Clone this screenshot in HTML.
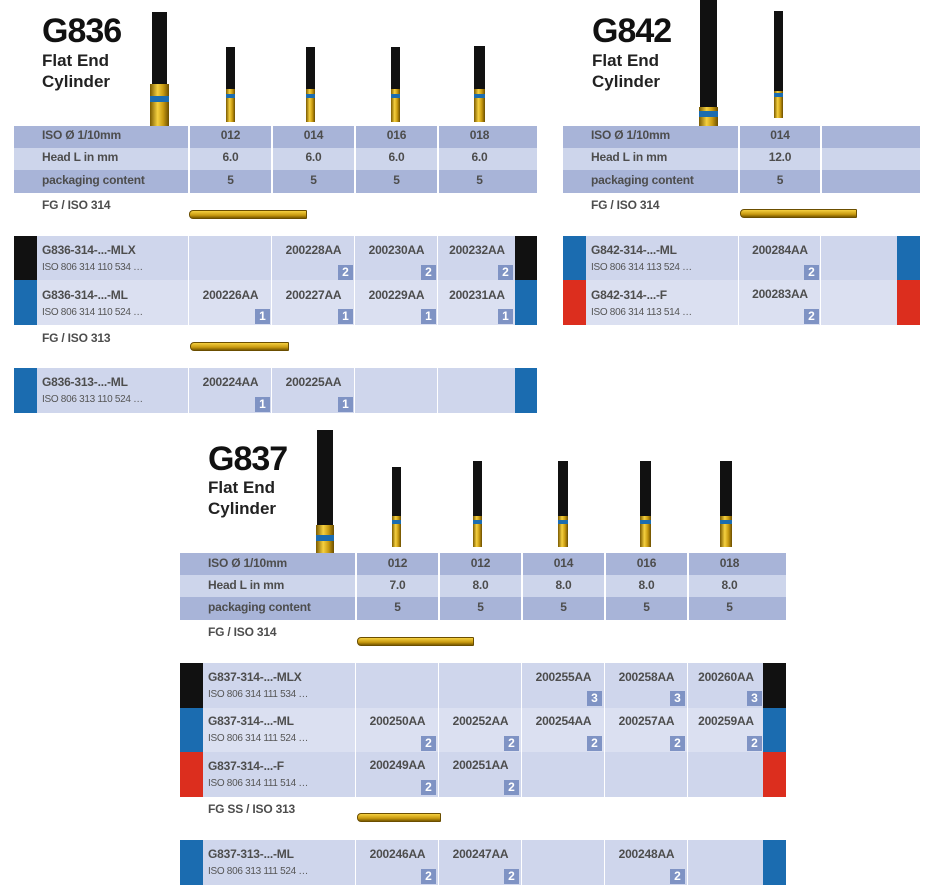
<!DOCTYPE html>
<html><head><meta charset="utf-8"><style>
body{margin:0;width:937px;height:892px;background:#fff;position:relative;overflow:hidden;font-family:"Liberation Sans",sans-serif}
.a{position:absolute}
.t{position:absolute;font-weight:bold;font-size:12px;color:#4d4d4d;white-space:nowrap;letter-spacing:-0.2px}
.c{text-align:center}
.s{position:absolute;font-size:10px;color:#555;white-space:nowrap;letter-spacing:-0.3px}
.b{position:absolute;width:15px;height:15px;background:#7f93c4;color:#fff;font-weight:bold;font-size:12px;text-align:center;line-height:15px}
.h{position:absolute;font-weight:bold;font-size:34px;color:#111;letter-spacing:-1px}
.f{position:absolute;font-weight:bold;font-size:17px;color:#222;line-height:21px}
.dk{background:#a8b4d8}.lt{background:#cdd5eb}.p1{background:#cfd6ec}.p2{background:#dbe0f1}
.v{position:absolute;width:2px;background:#fff}
.blk{background:#111}.gold{background:linear-gradient(90deg,#7a5a00,#f5d040 40%,#c89a10 70%,#6b4e00)}.blue{background:#1b6cb0}
.hb{position:absolute;height:7px;border-radius:4px;background:linear-gradient(180deg,#f5d040,#c89a10 60%,#7a5a00);border:1px solid #6b4e00}
</style></head><body>

<!-- G836 -->
<div class="h" style="left:42px;top:12px">G836</div>
<div class="f" style="left:42px;top:50px">Flat End<br>Cylinder</div>
<div class="a blk" style="left:152px;top:12px;width:15px;height:72px"></div>
<div class="a gold" style="left:150px;top:84px;width:19px;height:42px"></div>
<div class="a blue" style="left:150px;top:96px;width:19px;height:6px"></div>
<div class="a blk" style="left:226px;top:47px;width:9px;height:42px"></div><div class="a gold" style="left:226px;top:89px;width:9px;height:33px"></div><div class="a blue" style="left:226px;top:94px;width:9px;height:4px"></div>
<div class="a blk" style="left:306px;top:47px;width:9px;height:42px"></div><div class="a gold" style="left:306px;top:89px;width:9px;height:33px"></div><div class="a blue" style="left:306px;top:94px;width:9px;height:4px"></div>
<div class="a blk" style="left:391px;top:47px;width:9px;height:42px"></div><div class="a gold" style="left:391px;top:89px;width:9px;height:33px"></div><div class="a blue" style="left:391px;top:94px;width:9px;height:4px"></div>
<div class="a blk" style="left:474px;top:46px;width:11px;height:43px"></div><div class="a gold" style="left:474px;top:89px;width:11px;height:33px"></div><div class="a blue" style="left:474px;top:94px;width:11px;height:4px"></div>

<div class="a dk" style="left:14px;top:126px;width:523px;height:22px"></div>
<div class="a lt" style="left:14px;top:148px;width:523px;height:22px"></div>
<div class="a dk" style="left:14px;top:170px;width:523px;height:23px"></div>
<div class="v" style="left:188px;top:126px;height:67px"></div><div class="v" style="left:271px;top:126px;height:67px"></div><div class="v" style="left:354px;top:126px;height:67px"></div><div class="v" style="left:437px;top:126px;height:67px"></div>
<div class="t" style="left:42px;top:128px">ISO Ø 1/10mm</div><div class="t" style="left:42px;top:150px">Head L in mm</div><div class="t" style="left:42px;top:173px">packaging content</div>
<div class="t c" style="left:190px;width:81px;top:128px">012</div><div class="t c" style="left:273px;width:81px;top:128px">014</div><div class="t c" style="left:356px;width:81px;top:128px">016</div><div class="t c" style="left:439px;width:81px;top:128px">018</div>
<div class="t c" style="left:190px;width:81px;top:150px">6.0</div><div class="t c" style="left:273px;width:81px;top:150px">6.0</div><div class="t c" style="left:356px;width:81px;top:150px">6.0</div><div class="t c" style="left:439px;width:81px;top:150px">6.0</div>
<div class="t c" style="left:190px;width:81px;top:173px">5</div><div class="t c" style="left:273px;width:81px;top:173px">5</div><div class="t c" style="left:356px;width:81px;top:173px">5</div><div class="t c" style="left:439px;width:81px;top:173px">5</div>
<div class="t" style="left:42px;top:198px">FG / ISO 314</div>
<div class="hb" style="left:189px;top:210px;width:116px;border-radius:4px 1px 1px 4px"></div>

<div class="a p1" style="left:14px;top:236px;width:523px;height:44px"></div>
<div class="a p2" style="left:14px;top:280px;width:523px;height:45px"></div>
<div class="a blk" style="left:14px;top:236px;width:23px;height:44px"></div><div class="a blk" style="left:515px;top:236px;width:22px;height:44px"></div>
<div class="a blue" style="left:14px;top:280px;width:23px;height:45px"></div><div class="a blue" style="left:515px;top:280px;width:22px;height:45px"></div>
<div class="v" style="left:188px;top:236px;height:89px;width:1px"></div><div class="v" style="left:271px;top:236px;height:89px;width:1px"></div><div class="v" style="left:354px;top:236px;height:89px;width:1px"></div><div class="v" style="left:437px;top:236px;height:89px;width:1px"></div>
<div class="t" style="left:42px;top:243px">G836-314-...-MLX</div><div class="s" style="left:42px;top:262px">ISO 806 314 110 534 …</div>
<div class="t" style="left:42px;top:288px">G836-314-...-ML</div><div class="s" style="left:42px;top:307px">ISO 806 314 110 524 …</div>
<div class="t c" style="left:273px;width:81px;top:243px">200228AA</div><div class="t c" style="left:356px;width:81px;top:243px">200230AA</div><div class="t c" style="left:439px;width:76px;top:243px">200232AA</div>
<div class="b" style="left:338px;top:265px">2</div><div class="b" style="left:421px;top:265px">2</div><div class="b" style="left:498px;top:265px">2</div>
<div class="t c" style="left:190px;width:81px;top:288px">200226AA</div><div class="t c" style="left:273px;width:81px;top:288px">200227AA</div><div class="t c" style="left:356px;width:81px;top:288px">200229AA</div><div class="t c" style="left:439px;width:76px;top:288px">200231AA</div>
<div class="b" style="left:255px;top:309px">1</div><div class="b" style="left:338px;top:309px">1</div><div class="b" style="left:421px;top:309px">1</div><div class="b" style="left:498px;top:309px">1</div>

<div class="t" style="left:42px;top:331px">FG / ISO 313</div>
<div class="hb" style="left:190px;top:342px;width:97px;border-radius:4px 1px 1px 4px"></div>
<div class="a p1" style="left:14px;top:368px;width:523px;height:45px"></div>
<div class="a blue" style="left:14px;top:368px;width:23px;height:45px"></div><div class="a blue" style="left:515px;top:368px;width:22px;height:45px"></div>
<div class="v" style="left:188px;top:368px;height:45px;width:1px"></div><div class="v" style="left:271px;top:368px;height:45px;width:1px"></div><div class="v" style="left:354px;top:368px;height:45px;width:1px"></div><div class="v" style="left:437px;top:368px;height:45px;width:1px"></div>
<div class="t" style="left:42px;top:375px">G836-313-...-ML</div><div class="s" style="left:42px;top:394px">ISO 806 313 110 524 …</div>
<div class="t c" style="left:190px;width:81px;top:375px">200224AA</div><div class="t c" style="left:273px;width:81px;top:375px">200225AA</div>
<div class="b" style="left:255px;top:397px">1</div><div class="b" style="left:338px;top:397px">1</div>

<!-- G842 -->
<div class="h" style="left:592px;top:12px">G842</div>
<div class="f" style="left:592px;top:50px">Flat End<br>Cylinder</div>
<div class="a blk" style="left:700px;top:0px;width:17px;height:107px"></div>
<div class="a gold" style="left:699px;top:107px;width:19px;height:19px"></div>
<div class="a blue" style="left:699px;top:111px;width:19px;height:6px"></div>
<div class="a blk" style="left:774px;top:11px;width:9px;height:80px"></div><div class="a gold" style="left:774px;top:91px;width:9px;height:27px"></div><div class="a blue" style="left:774px;top:93px;width:9px;height:4px"></div>
<div class="a dk" style="left:563px;top:126px;width:357px;height:22px"></div>
<div class="a lt" style="left:563px;top:148px;width:357px;height:22px"></div>
<div class="a dk" style="left:563px;top:170px;width:357px;height:23px"></div>
<div class="v" style="left:738px;top:126px;height:67px"></div><div class="v" style="left:820px;top:126px;height:67px"></div>
<div class="t" style="left:591px;top:128px">ISO Ø 1/10mm</div><div class="t" style="left:591px;top:150px">Head L in mm</div><div class="t" style="left:591px;top:173px">packaging content</div>
<div class="t c" style="left:740px;width:80px;top:128px">014</div><div class="t c" style="left:740px;width:80px;top:150px">12.0</div><div class="t c" style="left:740px;width:80px;top:173px">5</div>
<div class="t" style="left:591px;top:198px">FG / ISO 314</div>
<div class="hb" style="left:740px;top:209px;width:115px;border-radius:4px 1px 1px 4px"></div>
<div class="a p1" style="left:563px;top:236px;width:357px;height:44px"></div>
<div class="a p2" style="left:563px;top:280px;width:357px;height:45px"></div>
<div class="a blue" style="left:563px;top:236px;width:23px;height:44px"></div><div class="a blue" style="left:897px;top:236px;width:23px;height:44px"></div>
<div class="a" style="left:563px;top:280px;width:23px;height:45px;background:#dc2e1e"></div><div class="a" style="left:897px;top:280px;width:23px;height:45px;background:#dc2e1e"></div>
<div class="v" style="left:738px;top:236px;height:89px;width:1px"></div><div class="v" style="left:820px;top:236px;height:89px;width:1px"></div>
<div class="t" style="left:591px;top:243px">G842-314-...-ML</div><div class="s" style="left:591px;top:262px">ISO 806 314 113 524 …</div>
<div class="t" style="left:591px;top:288px">G842-314-...-F</div><div class="s" style="left:591px;top:307px">ISO 806 314 113 514 …</div>
<div class="t c" style="left:740px;width:80px;top:243px">200284AA</div><div class="b" style="left:804px;top:265px">2</div>
<div class="t c" style="left:740px;width:80px;top:287px">200283AA</div><div class="b" style="left:804px;top:309px">2</div>

<!-- G837 -->
<div class="h" style="left:208px;top:440px">G837</div>
<div class="f" style="left:208px;top:477px">Flat End<br>Cylinder</div>
<div class="a blk" style="left:317px;top:430px;width:16px;height:95px"></div>
<div class="a gold" style="left:316px;top:525px;width:18px;height:28px"></div>
<div class="a blue" style="left:316px;top:535px;width:18px;height:6px"></div>
<div class="a blk" style="left:392px;top:467px;width:9px;height:49px"></div><div class="a gold" style="left:392px;top:516px;width:9px;height:31px"></div><div class="a blue" style="left:392px;top:520px;width:9px;height:4px"></div>
<div class="a blk" style="left:473px;top:461px;width:9px;height:55px"></div><div class="a gold" style="left:473px;top:516px;width:9px;height:31px"></div><div class="a blue" style="left:473px;top:520px;width:9px;height:4px"></div>
<div class="a blk" style="left:558px;top:461px;width:10px;height:55px"></div><div class="a gold" style="left:558px;top:516px;width:10px;height:31px"></div><div class="a blue" style="left:558px;top:520px;width:10px;height:4px"></div>
<div class="a blk" style="left:640px;top:461px;width:11px;height:55px"></div><div class="a gold" style="left:640px;top:516px;width:11px;height:31px"></div><div class="a blue" style="left:640px;top:520px;width:11px;height:4px"></div>
<div class="a blk" style="left:720px;top:461px;width:12px;height:55px"></div><div class="a gold" style="left:720px;top:516px;width:12px;height:31px"></div><div class="a blue" style="left:720px;top:520px;width:12px;height:4px"></div>

<div class="a dk" style="left:180px;top:553px;width:606px;height:22px"></div>
<div class="a lt" style="left:180px;top:575px;width:606px;height:22px"></div>
<div class="a dk" style="left:180px;top:597px;width:606px;height:23px"></div>
<div class="v" style="left:355px;top:553px;height:67px"></div><div class="v" style="left:438px;top:553px;height:67px"></div><div class="v" style="left:521px;top:553px;height:67px"></div><div class="v" style="left:604px;top:553px;height:67px"></div><div class="v" style="left:687px;top:553px;height:67px"></div>
<div class="t" style="left:208px;top:556px">ISO Ø 1/10mm</div><div class="t" style="left:208px;top:578px">Head L in mm</div><div class="t" style="left:208px;top:600px">packaging content</div>
<div class="t c" style="left:357px;width:81px;top:556px">012</div><div class="t c" style="left:440px;width:81px;top:556px">012</div><div class="t c" style="left:523px;width:81px;top:556px">014</div><div class="t c" style="left:606px;width:81px;top:556px">016</div><div class="t c" style="left:689px;width:81px;top:556px">018</div>
<div class="t c" style="left:357px;width:81px;top:578px">7.0</div><div class="t c" style="left:440px;width:81px;top:578px">8.0</div><div class="t c" style="left:523px;width:81px;top:578px">8.0</div><div class="t c" style="left:606px;width:81px;top:578px">8.0</div><div class="t c" style="left:689px;width:81px;top:578px">8.0</div>
<div class="t c" style="left:357px;width:81px;top:600px">5</div><div class="t c" style="left:440px;width:81px;top:600px">5</div><div class="t c" style="left:523px;width:81px;top:600px">5</div><div class="t c" style="left:606px;width:81px;top:600px">5</div><div class="t c" style="left:689px;width:81px;top:600px">5</div>
<div class="t" style="left:208px;top:625px">FG / ISO 314</div>
<div class="hb" style="left:357px;top:637px;width:115px;border-radius:4px 1px 1px 4px"></div>

<div class="a p1" style="left:180px;top:663px;width:606px;height:45px"></div>
<div class="a p2" style="left:180px;top:708px;width:606px;height:44px"></div>
<div class="a p1" style="left:180px;top:752px;width:606px;height:45px"></div>
<div class="a blk" style="left:180px;top:663px;width:23px;height:45px"></div><div class="a blk" style="left:763px;top:663px;width:23px;height:45px"></div>
<div class="a blue" style="left:180px;top:708px;width:23px;height:44px"></div><div class="a blue" style="left:763px;top:708px;width:23px;height:44px"></div>
<div class="a" style="left:180px;top:752px;width:23px;height:45px;background:#dc2e1e"></div><div class="a" style="left:763px;top:752px;width:23px;height:45px;background:#dc2e1e"></div>
<div class="v" style="left:355px;top:663px;height:134px;width:1px"></div><div class="v" style="left:438px;top:663px;height:134px;width:1px"></div><div class="v" style="left:521px;top:663px;height:134px;width:1px"></div><div class="v" style="left:604px;top:663px;height:134px;width:1px"></div><div class="v" style="left:687px;top:663px;height:134px;width:1px"></div>
<div class="t" style="left:208px;top:670px">G837-314-...-MLX</div><div class="s" style="left:208px;top:689px">ISO 806 314 111 534 …</div>
<div class="t" style="left:208px;top:714px">G837-314-...-ML</div><div class="s" style="left:208px;top:733px">ISO 806 314 111 524 …</div>
<div class="t" style="left:208px;top:759px">G837-314-...-F</div><div class="s" style="left:208px;top:778px">ISO 806 314 111 514 …</div>
<div class="t c" style="left:523px;width:81px;top:670px">200255AA</div><div class="t c" style="left:606px;width:81px;top:670px">200258AA</div><div class="t c" style="left:689px;width:74px;top:670px">200260AA</div>
<div class="b" style="left:587px;top:691px">3</div><div class="b" style="left:670px;top:691px">3</div><div class="b" style="left:747px;top:691px">3</div>
<div class="t c" style="left:357px;width:81px;top:714px">200250AA</div><div class="t c" style="left:440px;width:81px;top:714px">200252AA</div><div class="t c" style="left:523px;width:81px;top:714px">200254AA</div><div class="t c" style="left:606px;width:81px;top:714px">200257AA</div><div class="t c" style="left:689px;width:74px;top:714px">200259AA</div>
<div class="b" style="left:421px;top:736px">2</div><div class="b" style="left:504px;top:736px">2</div><div class="b" style="left:587px;top:736px">2</div><div class="b" style="left:670px;top:736px">2</div><div class="b" style="left:747px;top:736px">2</div>
<div class="t c" style="left:357px;width:81px;top:758px">200249AA</div><div class="t c" style="left:440px;width:81px;top:758px">200251AA</div>
<div class="b" style="left:421px;top:780px">2</div><div class="b" style="left:504px;top:780px">2</div>

<div class="t" style="left:208px;top:802px">FG SS / ISO 313</div>
<div class="hb" style="left:357px;top:813px;width:82px;border-radius:4px 1px 1px 4px"></div>
<div class="a p1" style="left:180px;top:840px;width:606px;height:45px"></div>
<div class="a blue" style="left:180px;top:840px;width:23px;height:45px"></div><div class="a blue" style="left:763px;top:840px;width:23px;height:45px"></div>
<div class="v" style="left:355px;top:840px;height:45px;width:1px"></div><div class="v" style="left:438px;top:840px;height:45px;width:1px"></div><div class="v" style="left:521px;top:840px;height:45px;width:1px"></div><div class="v" style="left:604px;top:840px;height:45px;width:1px"></div><div class="v" style="left:687px;top:840px;height:45px;width:1px"></div>
<div class="t" style="left:208px;top:847px">G837-313-...-ML</div><div class="s" style="left:208px;top:866px">ISO 806 313 111 524 …</div>
<div class="t c" style="left:357px;width:81px;top:847px">200246AA</div><div class="t c" style="left:440px;width:81px;top:847px">200247AA</div><div class="t c" style="left:606px;width:81px;top:847px">200248AA</div>
<div class="b" style="left:421px;top:869px">2</div><div class="b" style="left:504px;top:869px">2</div><div class="b" style="left:670px;top:869px">2</div>
</body></html>
